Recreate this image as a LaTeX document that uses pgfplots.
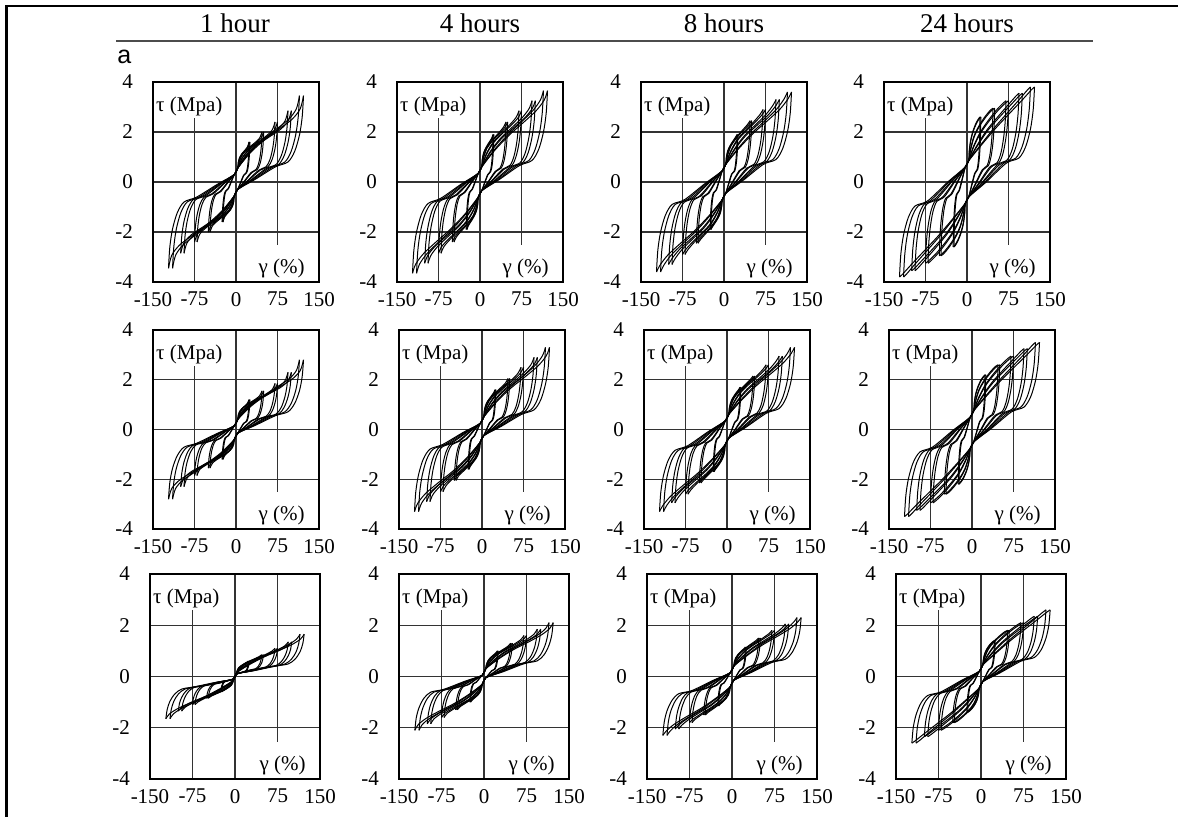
\documentclass[border=0pt]{standalone}
\usepackage{pgfplots}
\usepackage{pgfplotstable}
\pgfplotsset{compat=1.18}
\usepackage{fontspec}
\setmainfont{Liberation Serif}
\newfontfamily\sansf{Liberation Sans}
\newcommand{\tk}{\fontsize{10.5}{12}\selectfont}

% Each table: one strain amplitude. Rows g/h = loading strain (two cycles), G/H = unloading strain;
% pRC = loading stress of panel (row R, column C), mRC = unloading stress.
\pgfplotstableread{
n c1 c2 c3 c4 c5 c6 c7 c8 c9 c10 c11 c12 c13 c14 c15
g -25 -24.5 -23.5 -21.8 -19.3 -14.5 -7 -3 3 4.3 6.7 10.7 16.6 22.1 25
h -23.5 -23.03 -22.09 -20.49 -18.14 -13.63 -6.58 -3 3 4.04 6.3 10.06 15.6 20.77 23.5
G 25 24.5 23.5 21.8 19.3 14.5 7 3 -3 -4.3 -6.7 -10.7 -16.6 -22.1 -25
H 23.5 23.03 22.09 20.49 18.14 13.63 6.58 3 -3 -4.04 -6.3 -10.06 -15.6 -20.77 -23.5
p11 -1.6 -1.2 -0.87 -0.56 -0.37 -0.27 0.11 0.3 0.55 0.78 0.97 1.12 1.26 1.41 1.6
m11 1.6 1.2 0.87 0.56 0.37 0.27 -0.11 -0.3 -0.55 -0.78 -0.97 -1.12 -1.26 -1.41 -1.6
p12 -1.9 -1.42 -1.02 -0.65 -0.41 -0.29 0.13 0.35 0.6 0.89 1.15 1.35 1.56 1.74 1.9
m12 1.9 1.42 1.02 0.65 0.41 0.29 -0.13 -0.35 -0.6 -0.89 -1.15 -1.35 -1.56 -1.74 -1.9
p13 -1.9 -1.43 -1.03 -0.67 -0.43 -0.32 0.19 0.45 0.7 0.96 1.22 1.42 1.62 1.79 1.9
m13 1.9 1.43 1.03 0.67 0.43 0.32 -0.19 -0.45 -0.7 -0.96 -1.22 -1.42 -1.62 -1.79 -1.9
p14 -2.6 -1.92 -1.36 -0.84 -0.5 -0.34 0.28 0.6 0.85 1.24 1.64 1.99 2.32 2.53 2.6
m14 2.6 1.92 1.36 0.84 0.5 0.34 -0.28 -0.6 -0.85 -1.24 -1.64 -1.99 -2.32 -2.53 -2.6
p21 -1.2 -0.92 -0.68 -0.46 -0.32 -0.25 0.01 0.15 0.4 0.58 0.72 0.83 0.94 1.06 1.2
m21 1.2 0.92 0.68 0.46 0.32 0.25 -0.01 -0.15 -0.4 -0.58 -0.72 -0.83 -0.94 -1.06 -1.2
p22 -1.6 -1.2 -0.87 -0.56 -0.37 -0.27 0.07 0.25 0.5 0.74 0.96 1.14 1.31 1.47 1.6
m22 1.6 1.2 0.87 0.56 0.37 0.27 -0.07 -0.25 -0.5 -0.74 -0.96 -1.14 -1.31 -1.47 -1.6
p23 -1.7 -1.28 -0.93 -0.6 -0.39 -0.29 0.13 0.35 0.6 0.84 1.07 1.26 1.45 1.6 1.7
m23 1.7 1.28 0.93 0.6 0.39 0.29 -0.13 -0.35 -0.6 -0.84 -1.07 -1.26 -1.45 -1.6 -1.7
p24 -2.2 -1.64 -1.16 -0.73 -0.45 -0.32 0.22 0.5 0.75 1.07 1.4 1.69 1.97 2.14 2.2
m24 2.2 1.64 1.16 0.73 0.45 0.32 -0.22 -0.5 -0.75 -1.07 -1.4 -1.69 -1.97 -2.14 -2.2
p31 -0.6 -0.47 -0.37 -0.27 -0.21 -0.18 -0.13 -0.1 0.15 0.25 0.34 0.41 0.48 0.55 0.6
m31 0.6 0.47 0.37 0.27 0.21 0.18 0.13 0.1 -0.15 -0.25 -0.34 -0.41 -0.48 -0.55 -0.6
p32 -1 -0.77 -0.58 -0.4 -0.28 -0.23 -0.04 0.05 0.3 0.45 0.59 0.71 0.82 0.92 1
m32 1 0.77 0.58 0.4 0.28 0.23 0.04 -0.05 -0.3 -0.45 -0.59 -0.71 -0.82 -0.92 -1
p33 -1.15 -0.88 -0.65 -0.45 -0.31 -0.25 0.01 0.15 0.4 0.57 0.72 0.85 0.98 1.08 1.15
m33 1.15 0.88 0.65 0.45 0.31 0.25 -0.01 -0.15 -0.4 -0.57 -0.72 -0.85 -0.98 -1.08 -1.15
p34 -1.4 -1.06 -0.78 -0.52 -0.35 -0.27 0.04 0.2 0.45 0.66 0.88 1.07 1.25 1.36 1.4
m34 1.4 1.06 0.78 0.52 0.35 0.27 -0.04 -0.2 -0.45 -0.66 -0.88 -1.07 -1.25 -1.36 -1.4
}\rawA

\pgfplotstableread{
n c1 c2 c3 c4 c5 c6 c7 c8 c9 c10 c11 c12 c13 c14 c15
g -50 -49 -47 -43.5 -38.5 -29 -14 -3 3 6.8 12.9 22.3 34.5 44.8 50
h -47 -46.06 -44.18 -40.89 -36.19 -27.26 -13.16 -3 3 6.39 12.13 20.96 32.43 42.11 47
G 50 49 47 43.5 38.5 29 14 3 -3 -6.8 -12.9 -22.3 -34.5 -44.8 -50
H 47 46.06 44.18 40.89 36.19 27.26 13.16 3 -3 -6.39 -12.13 -20.96 -32.43 -42.11 -47
p11 -2 -1.52 -1.11 -0.74 -0.5 -0.38 0.02 0.3 0.55 0.87 1.13 1.33 1.54 1.74 2
m11 2 1.52 1.11 0.74 0.5 0.38 -0.02 -0.3 -0.55 -0.87 -1.13 -1.33 -1.54 -1.74 -2
p12 -2.4 -1.81 -1.31 -0.85 -0.56 -0.42 0.04 0.35 0.6 1 1.36 1.64 1.93 2.18 2.4
m12 2.4 1.81 1.31 0.85 0.56 0.42 -0.04 -0.35 -0.6 -1 -1.36 -1.64 -1.93 -2.18 -2.4
p13 -2.45 -1.85 -1.35 -0.89 -0.59 -0.45 0.08 0.45 0.7 1.09 1.45 1.75 2.05 2.29 2.45
m13 2.45 1.85 1.35 0.89 0.59 0.45 -0.08 -0.45 -0.7 -1.09 -1.45 -1.75 -2.05 -2.29 -2.45
p14 -2.95 -2.21 -1.59 -1.02 -0.65 -0.48 0.16 0.6 0.85 1.31 1.8 2.22 2.61 2.87 2.95
m14 2.95 2.21 1.59 1.02 0.65 0.48 -0.16 -0.6 -0.85 -1.31 -1.8 -2.22 -2.61 -2.87 -2.95
p21 -1.55 -1.19 -0.89 -0.62 -0.44 -0.35 -0.06 0.15 0.4 0.65 0.86 1.02 1.18 1.34 1.55
m21 1.55 1.19 0.89 0.62 0.44 0.35 0.06 -0.15 -0.4 -0.65 -0.86 -1.02 -1.18 -1.34 -1.55
p22 -2.05 -1.55 -1.13 -0.75 -0.5 -0.38 -0.01 0.25 0.5 0.84 1.15 1.4 1.65 1.86 2.05
m22 2.05 1.55 1.13 0.75 0.5 0.38 0.01 -0.25 -0.5 -0.84 -1.15 -1.4 -1.65 -1.86 -2.05
p23 -2.15 -1.63 -1.2 -0.8 -0.54 -0.42 0.04 0.35 0.6 0.94 1.27 1.53 1.79 2.01 2.15
m23 2.15 1.63 1.2 0.8 0.54 0.42 -0.04 -0.35 -0.6 -0.94 -1.27 -1.53 -1.79 -2.01 -2.15
p24 -2.6 -1.95 -1.42 -0.92 -0.6 -0.45 0.11 0.5 0.75 1.16 1.58 1.95 2.3 2.53 2.6
m24 2.6 1.95 1.42 0.92 0.6 0.45 -0.11 -0.5 -0.75 -1.16 -1.58 -1.95 -2.3 -2.53 -2.6
p31 -0.85 -0.67 -0.52 -0.39 -0.3 -0.26 -0.16 -0.1 0.15 0.3 0.44 0.56 0.67 0.77 0.85
m31 0.85 0.67 0.52 0.39 0.3 0.26 0.16 0.1 -0.15 -0.3 -0.44 -0.56 -0.67 -0.77 -0.85
p32 -1.3 -1.01 -0.76 -0.54 -0.39 -0.32 -0.1 0.05 0.3 0.52 0.72 0.88 1.04 1.18 1.3
m32 1.3 1.01 0.76 0.54 0.39 0.32 0.1 -0.05 -0.3 -0.52 -0.72 -0.88 -1.04 -1.18 -1.3
p33 -1.5 -1.16 -0.87 -0.61 -0.43 -0.35 -0.06 0.15 0.4 0.64 0.87 1.06 1.25 1.4 1.5
m33 1.5 1.16 0.87 0.61 0.43 0.35 0.06 -0.15 -0.4 -0.64 -0.87 -1.06 -1.25 -1.4 -1.5
p34 -1.8 -1.38 -1.02 -0.7 -0.48 -0.38 -0.04 0.2 0.45 0.75 1.06 1.33 1.58 1.75 1.8
m34 1.8 1.38 1.02 0.7 0.48 0.38 0.04 -0.2 -0.45 -0.75 -1.06 -1.33 -1.58 -1.75 -1.8
}\rawB

\pgfplotstableread{
n c1 c2 c3 c4 c5 c6 c7 c8 c9 c10 c11 c12 c13 c14 c15
g -75 -73.5 -70.5 -65.3 -57.8 -43.5 -21 -3 3 11.6 23.9 39 56.3 69.2 75
h -70.5 -69.09 -66.27 -61.38 -54.33 -40.89 -19.74 -3 3 10.9 22.47 36.66 52.92 65.05 70.5
G 75 73.5 70.5 65.3 57.8 43.5 21 3 -3 -11.6 -23.9 -39 -56.3 -69.2 -75
H 70.5 69.09 66.27 61.38 54.33 40.89 19.74 3 -3 -10.9 -22.47 -36.66 -52.92 -65.05 -70.5
p11 -2.4 -1.82 -1.34 -0.9 -0.61 -0.47 -0.03 0.3 0.55 0.96 1.29 1.55 1.81 2.07 2.4
m11 2.4 1.82 1.34 0.9 0.61 0.47 0.03 -0.3 -0.55 -0.96 -1.29 -1.55 -1.81 -2.07 -2.4
p12 -2.85 -2.15 -1.56 -1.03 -0.67 -0.51 -0.02 0.35 0.6 1.1 1.55 1.91 2.27 2.58 2.85
m12 2.85 2.15 1.56 1.03 0.67 0.51 0.02 -0.35 -0.6 -1.1 -1.55 -1.91 -2.27 -2.58 -2.85
p13 -2.9 -2.2 -1.61 -1.07 -0.71 -0.55 0.02 0.45 0.7 1.18 1.65 2.02 2.39 2.7 2.9
m13 2.9 2.2 1.61 1.07 0.71 0.55 -0.02 -0.45 -0.7 -1.18 -1.65 -2.02 -2.39 -2.7 -2.9
p14 -3.25 -2.45 -1.79 -1.17 -0.77 -0.59 0.09 0.6 0.85 1.38 1.93 2.41 2.87 3.15 3.25
m14 3.25 2.45 1.79 1.17 0.77 0.59 -0.09 -0.6 -0.85 -1.38 -1.93 -2.41 -2.87 -3.15 -3.25
p21 -1.85 -1.42 -1.07 -0.74 -0.53 -0.43 -0.1 0.15 0.4 0.72 0.98 1.18 1.39 1.59 1.85
m21 1.85 1.42 1.07 0.74 0.53 0.43 0.1 -0.15 -0.4 -0.72 -0.98 -1.18 -1.39 -1.59 -1.85
p22 -2.5 -1.89 -1.38 -0.92 -0.61 -0.47 -0.06 0.25 0.5 0.94 1.34 1.66 1.98 2.26 2.5
m22 2.5 1.89 1.38 0.92 0.61 0.47 0.06 -0.25 -0.5 -0.94 -1.34 -1.66 -1.98 -2.26 -2.5
p23 -2.6 -1.97 -1.45 -0.97 -0.66 -0.51 -0.02 0.35 0.6 1.04 1.46 1.8 2.14 2.42 2.6
m23 2.6 1.97 1.45 0.97 0.66 0.51 0.02 -0.35 -0.6 -1.04 -1.46 -1.8 -2.14 -2.42 -2.6
p24 -2.95 -2.23 -1.63 -1.08 -0.72 -0.55 0.05 0.5 0.75 1.23 1.74 2.18 2.6 2.86 2.95
m24 2.95 2.23 1.63 1.08 0.72 0.55 -0.05 -0.5 -0.75 -1.23 -1.74 -2.18 -2.6 -2.86 -2.95
p31 -1.1 -0.86 -0.67 -0.49 -0.37 -0.31 -0.19 -0.1 0.15 0.36 0.55 0.7 0.85 0.99 1.1
m31 1.1 0.86 0.67 0.49 0.37 0.31 0.19 0.1 -0.15 -0.36 -0.55 -0.7 -0.85 -0.99 -1.1
p32 -1.6 -1.24 -0.94 -0.66 -0.48 -0.39 -0.14 0.05 0.3 0.59 0.85 1.05 1.26 1.44 1.6
m32 1.6 1.24 0.94 0.66 0.48 0.39 0.14 -0.05 -0.3 -0.59 -0.85 -1.05 -1.26 -1.44 -1.6
p33 -1.8 -1.39 -1.05 -0.73 -0.53 -0.43 -0.1 0.15 0.4 0.71 1 1.24 1.48 1.67 1.8
m33 1.8 1.39 1.05 0.73 0.53 0.43 0.1 -0.15 -0.4 -0.71 -1 -1.24 -1.48 -1.67 -1.8
p34 -2.1 -1.61 -1.2 -0.83 -0.58 -0.47 -0.09 0.2 0.45 0.81 1.19 1.52 1.84 2.03 2.1
m34 2.1 1.61 1.2 0.83 0.58 0.47 0.09 -0.2 -0.45 -0.81 -1.19 -1.52 -1.84 -2.03 -2.1
}\rawC

\pgfplotstableread{
n c1 c2 c3 c4 c5 c6 c7 c8 c9 c10 c11 c12 c13 c14 c15
g -100 -98 -94 -87 -77 -58 -28 -3 3 18.5 37.9 59.3 80.6 94.2 100
h -94 -92.12 -88.36 -81.78 -72.38 -54.52 -26.32 -3 3 17.39 35.63 55.74 75.76 88.55 94
G 100 98 94 87 77 58 28 3 -3 -18.5 -37.9 -59.3 -80.6 -94.2 -100
H 94 92.12 88.36 81.78 72.38 54.52 26.32 3 -3 -17.39 -35.63 -55.74 -75.76 -88.55 -94
p11 -2.85 -2.16 -1.58 -1.05 -0.7 -0.54 -0.07 0.3 0.55 1.06 1.47 1.79 2.11 2.44 2.85
m11 2.85 2.16 1.58 1.05 0.7 0.54 0.07 -0.3 -0.55 -1.06 -1.47 -1.79 -2.11 -2.44 -2.85
p12 -3.25 -2.45 -1.79 -1.17 -0.77 -0.59 -0.06 0.35 0.6 1.18 1.71 2.14 2.56 2.93 3.25
m12 3.25 2.45 1.79 1.17 0.77 0.59 0.06 -0.35 -0.6 -1.18 -1.71 -2.14 -2.56 -2.93 -3.25
p13 -3.3 -2.5 -1.83 -1.22 -0.82 -0.63 -0.02 0.45 0.7 1.27 1.82 2.26 2.7 3.07 3.3
m13 3.3 2.5 1.83 1.22 0.82 0.63 0.02 -0.45 -0.7 -1.27 -1.82 -2.26 -2.7 -3.07 -3.3
p14 -3.55 -2.69 -1.97 -1.31 -0.88 -0.68 0.04 0.6 0.85 1.44 2.07 2.61 3.12 3.44 3.55
m14 3.55 2.69 1.97 1.31 0.88 0.68 -0.04 -0.6 -0.85 -1.44 -2.07 -2.61 -3.12 -3.44 -3.55
p21 -2.3 -1.76 -1.31 -0.89 -0.62 -0.5 -0.13 0.15 0.4 0.82 1.16 1.43 1.69 1.96 2.3
m21 2.3 1.76 1.31 0.89 0.62 0.5 0.13 -0.15 -0.4 -0.82 -1.16 -1.43 -1.69 -1.96 -2.3
p22 -2.9 -2.19 -1.6 -1.06 -0.71 -0.54 -0.1 0.25 0.5 1.03 1.51 1.89 2.28 2.61 2.9
m22 2.9 2.19 1.6 1.06 0.71 0.54 0.1 -0.25 -0.5 -1.03 -1.51 -1.89 -2.28 -2.61 -2.9
p23 -2.95 -2.24 -1.65 -1.11 -0.75 -0.59 -0.06 0.35 0.6 1.12 1.61 2.01 2.41 2.74 2.95
m23 2.95 2.24 1.65 1.11 0.75 0.59 0.06 -0.35 -0.6 -1.12 -1.61 -2.01 -2.41 -2.74 -2.95
p24 -3.25 -2.47 -1.81 -1.21 -0.82 -0.63 0.01 0.5 0.75 1.3 1.88 2.38 2.85 3.15 3.25
m24 3.25 2.47 1.81 1.21 0.82 0.63 -0.01 -0.5 -0.75 -1.3 -1.88 -2.38 -2.85 -3.15 -3.25
p31 -1.35 -1.05 -0.81 -0.58 -0.43 -0.36 -0.21 -0.1 0.15 0.41 0.65 0.85 1.04 1.21 1.35
m31 1.35 1.05 0.81 0.58 0.43 0.36 0.21 0.1 -0.15 -0.41 -0.65 -0.85 -1.04 -1.21 -1.35
p32 -1.85 -1.43 -1.08 -0.76 -0.55 -0.45 -0.17 0.05 0.3 0.64 0.95 1.2 1.45 1.66 1.85
m32 1.85 1.43 1.08 0.76 0.55 0.45 0.17 -0.05 -0.3 -0.64 -0.95 -1.2 -1.45 -1.66 -1.85
p33 -2.05 -1.58 -1.2 -0.84 -0.61 -0.5 -0.13 0.15 0.4 0.76 1.11 1.39 1.67 1.9 2.05
m33 2.05 1.58 1.2 0.84 0.61 0.5 0.13 -0.15 -0.4 -0.76 -1.11 -1.39 -1.67 -1.9 -2.05
p34 -2.35 -1.81 -1.36 -0.94 -0.67 -0.54 -0.12 0.2 0.45 0.87 1.31 1.69 2.05 2.27 2.35
m34 2.35 1.81 1.36 0.94 0.67 0.54 0.12 -0.2 -0.45 -0.87 -1.31 -1.69 -2.05 -2.27 -2.35
}\rawD

\pgfplotstableread{
n c1 c2 c3 c4 c5 c6 c7 c8 c9 c10 c11 c12 c13 c14 c15
g -122 -119.6 -114.7 -106.1 -93.9 -70.8 -34.2 -3 3 26.8 53 78 101.8 116.1 122
h -114.7 -112.42 -107.82 -99.73 -88.27 -66.55 -32.15 -3 3 25.19 49.82 73.32 95.69 109.13 114.7
G 122 119.6 114.7 106.1 93.9 70.8 34.2 3 -3 -26.8 -53 -78 -101.8 -116.1 -122
H 114.7 112.42 107.82 99.73 88.27 66.55 32.15 3 -3 -25.19 -49.82 -73.32 -95.69 -109.13 -114.7
p11 -3.45 -2.6 -1.88 -1.23 -0.8 -0.6 -0.1 0.3 0.55 1.19 1.71 2.12 2.52 2.93 3.45
m11 3.45 2.6 1.88 1.23 0.8 0.6 0.1 -0.3 -0.55 -1.19 -1.71 -2.12 -2.52 -2.93 -3.45
p12 -3.65 -2.75 -2 -1.31 -0.86 -0.65 -0.09 0.35 0.6 1.27 1.88 2.37 2.86 3.28 3.65
m12 3.65 2.75 2 1.31 0.86 0.65 0.09 -0.35 -0.6 -1.27 -1.88 -2.37 -2.86 -3.28 -3.65
p13 -3.6 -2.73 -2.01 -1.34 -0.9 -0.7 -0.06 0.45 0.7 1.34 1.95 2.44 2.93 3.34 3.6
m13 3.6 2.73 2.01 1.34 0.9 0.7 0.06 -0.45 -0.7 -1.34 -1.95 -2.44 -2.93 -3.34 -3.6
p14 -3.8 -2.89 -2.12 -1.42 -0.96 -0.75 0.01 0.6 0.85 1.5 2.18 2.77 3.33 3.68 3.8
m14 3.8 2.89 2.12 1.42 0.96 0.75 -0.01 -0.6 -0.85 -1.5 -2.18 -2.77 -3.33 -3.68 -3.8
p21 -2.8 -2.13 -1.56 -1.05 -0.71 -0.55 -0.16 0.15 0.4 0.93 1.36 1.7 2.03 2.37 2.8
m21 2.8 2.13 1.56 1.05 0.71 0.55 0.16 -0.15 -0.4 -0.93 -1.36 -1.7 -2.03 -2.37 -2.8
p22 -3.3 -2.49 -1.82 -1.19 -0.79 -0.6 -0.12 0.25 0.5 1.12 1.68 2.12 2.57 2.96 3.3
m22 3.3 2.49 1.82 1.19 0.79 0.6 0.12 -0.25 -0.5 -1.12 -1.68 -2.12 -2.57 -2.96 -3.3
p23 -3.3 -2.51 -1.84 -1.23 -0.84 -0.65 -0.09 0.35 0.6 1.19 1.76 2.22 2.68 3.06 3.3
m23 3.3 2.51 1.84 1.23 0.84 0.65 0.09 -0.35 -0.6 -1.19 -1.76 -2.22 -2.68 -3.06 -3.3
p24 -3.5 -2.66 -1.96 -1.32 -0.9 -0.7 -0.03 0.5 0.75 1.36 1.99 2.54 3.06 3.39 3.5
m24 3.5 2.66 1.96 1.32 0.9 0.7 0.03 -0.5 -0.75 -1.36 -1.99 -2.54 -3.06 -3.39 -3.5
p31 -1.65 -1.28 -0.96 -0.68 -0.49 -0.4 -0.23 -0.1 0.15 0.48 0.78 1.02 1.26 1.47 1.65
m31 1.65 1.28 0.96 0.68 0.49 0.4 0.23 0.1 -0.15 -0.48 -0.78 -1.02 -1.26 -1.47 -1.65
p32 -2.1 -1.62 -1.22 -0.85 -0.61 -0.5 -0.19 0.05 0.3 0.7 1.06 1.34 1.63 1.88 2.1
m32 2.1 1.62 1.22 0.85 0.61 0.5 0.19 -0.05 -0.3 -0.7 -1.06 -1.34 -1.63 -1.88 -2.1
p33 -2.3 -1.78 -1.34 -0.94 -0.67 -0.55 -0.16 0.15 0.4 0.82 1.22 1.54 1.86 2.13 2.3
m33 2.3 1.78 1.34 0.94 0.67 0.55 0.16 -0.15 -0.4 -0.82 -1.22 -1.54 -1.86 -2.13 -2.3
p34 -2.6 -2 -1.5 -1.04 -0.74 -0.6 -0.15 0.2 0.45 0.92 1.42 1.85 2.26 2.51 2.6
m34 2.6 2 1.5 1.04 0.74 0.6 0.15 -0.2 -0.45 -0.92 -1.42 -1.85 -2.26 -2.51 -2.6
}\rawE

\pgfplotstabletranspose[colnames from=n]\TA{\rawA}
\pgfplotstabletranspose[colnames from=n]\TB{\rawB}
\pgfplotstabletranspose[colnames from=n]\TC{\rawC}
\pgfplotstabletranspose[colnames from=n]\TD{\rawD}
\pgfplotstabletranspose[colnames from=n]\TE{\rawE}

\tikzset{
  taulab/.style={fill=white, anchor=north west, inner xsep=1pt, inner ysep=0pt, text height=14pt, text depth=3.5pt, font=\tk, xshift=0.4pt, yshift=-0.4pt},
  gamlab/.style={fill=white, anchor=south east, inner xsep=1pt, inner ysep=0pt, text height=14.6pt, text depth=3.4pt, font=\tk, xshift=-6pt, yshift=0.4pt},
}
\pgfplotsset{
  panel/.style={scale only axis, anchor=north west, width=83pt, height=100pt,
    xmin=-150, xmax=150, ymin=-4, ymax=4,
    xtick={-150,-75,0,75,150}, xticklabels={-150,-75,0,75,150},
    ytick={-4,-2,0,2,4}, yticklabels={-4,-2,0,2,4},
    grid=major, major grid style={black!80, line width=0.55pt},
    axis line style={black, line width=0.6pt},
    major tick length=0pt,
    tick label style={font=\tk},
    xticklabel style={yshift=-1.5pt},
    yticklabel style={xshift=-6.5pt}},
  lp/.style={black, line width=0.5pt, smooth, tension=0.5, mark=none},
}
\newcommand{\cyc}[2]{%
  \addplot[lp] table[x=g,y=p#2]{#1};
  \addplot[lp] table[x=G,y=m#2]{#1};
  \addplot[lp] table[x=h,y=p#2]{#1};
  \addplot[lp] table[x=H,y=m#2]{#1};}
\newcommand{\allc}[1]{\cyc{\TA}{#1}\cyc{\TB}{#1}\cyc{\TC}{#1}\cyc{\TD}{#1}\cyc{\TE}{#1}}
\newcommand{\labs}{\node[taulab] at (rel axis cs:0,1) {τ (Mpa)};\node[gamlab] at (rel axis cs:1,0) {γ (\%)};}

\begin{document}
\begin{tikzpicture}
\useasboundingbox (0,0) rectangle (589pt,-408.5pt);
\draw[line width=1.3pt] (2.6pt,-3pt) -- (589pt,-3pt);
\draw[line width=1.5pt] (3.3pt,-3pt) -- (3.3pt,-408.5pt);
\draw[gray!60!black, line width=0.6pt] (58pt,-20.5pt) -- (546.5pt,-20.5pt);
\node[anchor=base, font=\fontsize{13.5}{16}\selectfont] at (117.5pt,-16.5pt) {1 hour};
\node[anchor=base, font=\fontsize{13.5}{16}\selectfont] at (240pt,-16.5pt) {4 hours};
\node[anchor=base, font=\fontsize{13.5}{16}\selectfont] at (362pt,-16.5pt) {8 hours};
\node[anchor=base, font=\fontsize{13.5}{16}\selectfont] at (483.5pt,-16.5pt) {24 hours};
\node[anchor=base west, inner sep=0pt, font=\sansf\fontsize{12.5}{15}\selectfont] at (58.5pt,-32pt) {a};

\begin{axis}[panel, at={(76.5pt,-41pt)}] \allc{11} \labs \end{axis}
\begin{axis}[panel, at={(198.5pt,-41pt)}] \allc{12} \labs \end{axis}
\begin{axis}[panel, at={(320.5pt,-41pt)}] \allc{13} \labs \end{axis}
\begin{axis}[panel, at={(442pt,-41pt)}] \allc{14} \labs \end{axis}

\begin{axis}[panel, height=99.5pt, at={(76.5pt,-165pt)}] \allc{21} \labs \end{axis}
\begin{axis}[panel, height=99.5pt, at={(199.5pt,-165pt)}] \allc{22} \labs \end{axis}
\begin{axis}[panel, height=99.5pt, at={(322pt,-165pt)}] \allc{23} \labs \end{axis}
\begin{axis}[panel, height=99.5pt, at={(444.5pt,-165pt)}] \allc{24} \labs \end{axis}

\begin{axis}[panel, width=85pt, height=102.5pt, at={(75pt,-287pt)}] \allc{31} \labs \end{axis}
\begin{axis}[panel, width=85pt, height=102.5pt, at={(199.5pt,-287pt)}] \allc{32} \labs \end{axis}
\begin{axis}[panel, width=85pt, height=102.5pt, at={(323.5pt,-287pt)}] \allc{33} \labs \end{axis}
\begin{axis}[panel, width=85pt, height=102.5pt, at={(448pt,-287pt)}] \allc{34} \labs \end{axis}
\end{tikzpicture}
\end{document}
